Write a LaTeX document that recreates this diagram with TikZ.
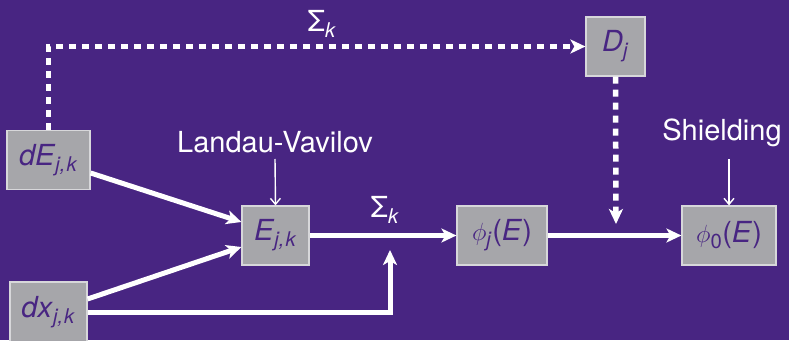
\documentclass[tikz,border=0pt]{standalone}
\usepackage{fontspec}
\setmainfont{TeX Gyre Heros}
\usetikzlibrary{arrows.meta}
\definecolor{bgpurple}{RGB}{72,37,130}
\definecolor{boxgray}{RGB}{166,166,170}
\definecolor{boxedge}{RGB}{215,215,218}
\newcommand{\jk}{\textsubscript{\textit{j,\kern1pt k}}}
\tikzset{
  x=1pt, y=1pt,
  every node/.style={font=\fontsize{29}{32}\selectfont},
  blk/.style={draw=boxedge, line width=1.2pt, fill=boxgray, text=bgpurple,
              inner sep=0pt, minimum height=59pt},
  flow/.style={draw=white, line width=5pt, -{Stealth[length=15pt,width=14pt,inset=4pt]}},
  feed/.style={draw=white, line width=5.5pt, dash pattern=on 7pt off 6pt,
               -{Stealth[length=15pt,width=14pt,inset=4pt]}},
  thinarrow/.style={draw=white, line width=1.4pt, -{Straight Barb[length=6pt,width=10pt]}},
  lbl/.style={text=white, inner sep=0pt}
}
\begin{document}
\begin{tikzpicture}
  % background
  \fill[bgpurple] (0,0) rectangle (789,340);
  \useasboundingbox (0,0) rectangle (789,340);

  % blocks
  \node[blk, minimum width=83pt] (dE)   at (48.5,180)   {\textit{dE}\jk};
  \node[blk, minimum width=77pt, minimum height=60pt] (dx) at (48.5,28) {\textit{dx}\jk};
  \node[blk, minimum width=67pt] (E)    at (275.5,104.5) {\textit{E}\jk};
  \node[blk, minimum width=90pt] (phij) at (502,104.5)   {$\phi$\textsubscript{\textit{j}}(\textit{E})};
  \node[blk, minimum width=94pt] (phi0) at (729,104.5)   {$\phi$\textsubscript{0}(\textit{E})};
  \node[blk, minimum width=59pt] (Dj)   at (615.5,293.5) {\textit{D}\textsubscript{\textit{j}}};

  % labels
  \node[lbl] (lv)   at (275,198) {Landau-Vavilov};
  \node[lbl] (sh)   at (722,207) {Shielding};
  \node[lbl] (stop) at (322,316) {Σ\textsubscript{\textit{k}}};
  \node[lbl] (smid) at (385,130) {Σ\textsubscript{\textit{k}}};

  % junction points
  \coordinate (sumin) at (390,90);
  \coordinate (dfin)  at (616,116);

  % main flow
  \draw[flow] ([yshift=-13pt]dE.east) -- ([yshift=13.5pt]E.west);
  \draw[flow] ([yshift=13pt]dx.east) -- ([yshift=-11.5pt]E.west);
  \draw[flow] (dx.east) -| (sumin);
  \draw[flow] (E.east) -- (phij.west);
  \draw[flow] (phij.east) -- (phi0.west);

  % feedback through D_j
  \draw[feed] (dE.north) |- (Dj.west);
  \draw[feed] (Dj.south) -- (dfin);

  % external inputs
  \draw[thinarrow] (275,181) -- (E.north);
  \draw[thinarrow] (729,181) -- (phi0.north);
\end{tikzpicture}
\end{document}
